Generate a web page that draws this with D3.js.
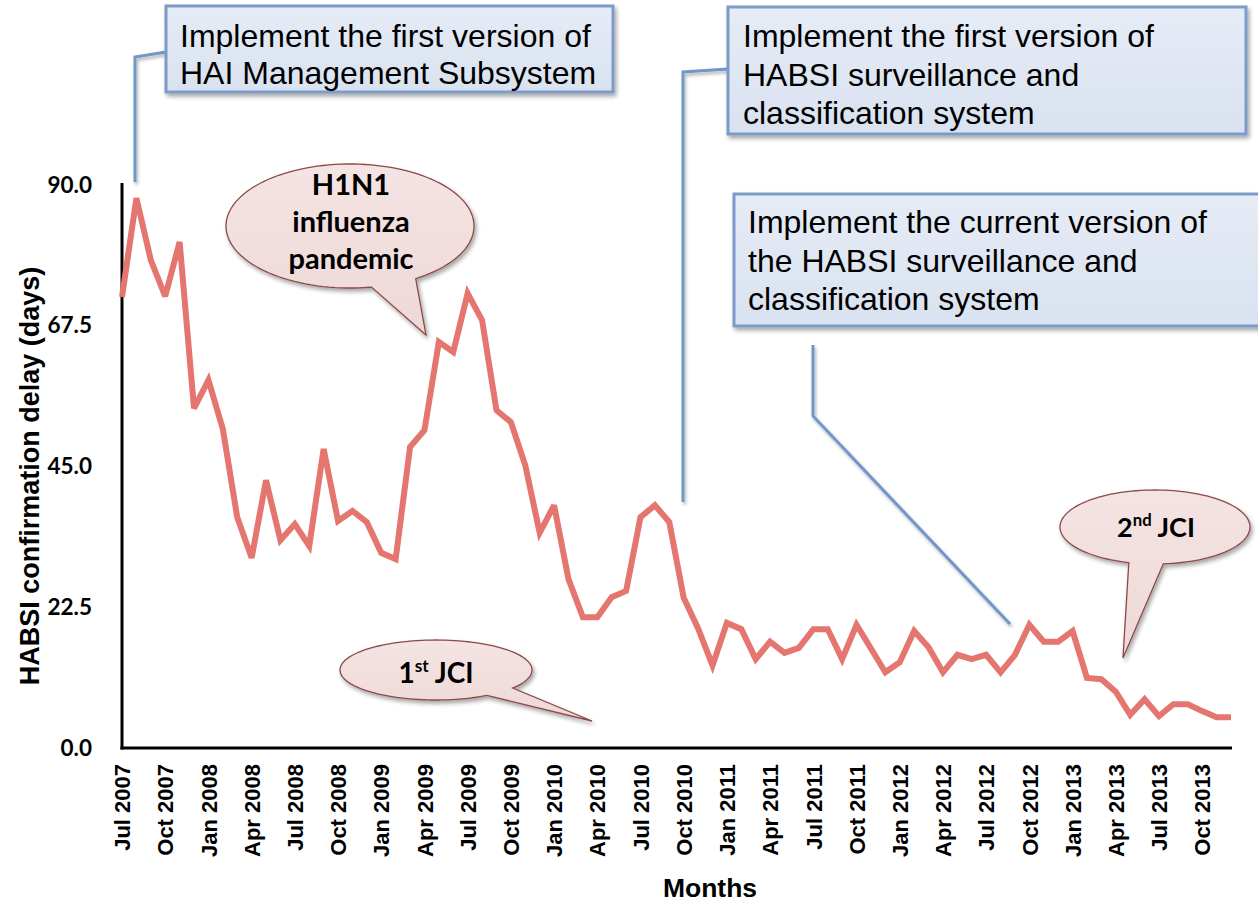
<!DOCTYPE html>
<html>
<head>
<meta charset="utf-8">
<script src="https://cdn.jsdelivr.net/npm/d3@7"></script>
<style>
  html, body { margin: 0; padding: 0; background: #fff; }
  svg { display: block; }
</style>
</head>
<body>
<svg id="chart" width="1258" height="906"></svg>
<script>
// ---------------- DATA ----------------
const months = [
  "Jul 2007","Aug 2007","Sep 2007","Oct 2007","Nov 2007","Dec 2007",
  "Jan 2008","Feb 2008","Mar 2008","Apr 2008","May 2008","Jun 2008",
  "Jul 2008","Aug 2008","Sep 2008","Oct 2008","Nov 2008","Dec 2008",
  "Jan 2009","Feb 2009","Mar 2009","Apr 2009","May 2009","Jun 2009",
  "Jul 2009","Aug 2009","Sep 2009","Oct 2009","Nov 2009","Dec 2009",
  "Jan 2010","Feb 2010","Mar 2010","Apr 2010","May 2010","Jun 2010",
  "Jul 2010","Aug 2010","Sep 2010","Oct 2010","Nov 2010","Dec 2010",
  "Jan 2011","Feb 2011","Mar 2011","Apr 2011","May 2011","Jun 2011",
  "Jul 2011","Aug 2011","Sep 2011","Oct 2011","Nov 2011","Dec 2011",
  "Jan 2012","Feb 2012","Mar 2012","Apr 2012","May 2012","Jun 2012",
  "Jul 2012","Aug 2012","Sep 2012","Oct 2012","Nov 2012","Dec 2012",
  "Jan 2013","Feb 2013","Mar 2013","Apr 2013","May 2013","Jun 2013",
  "Jul 2013","Aug 2013","Sep 2013","Oct 2013","Nov 2013","Dec 2013"
];
const delayDays = [
  72.1, 87.9, 78.0, 72.2, 80.9, 54.3,
  58.8, 51.0, 36.9, 30.4, 42.8, 33.2,
  35.8, 32.3, 47.8, 36.3, 37.9, 36.1,
  31.2, 30.2, 48.1, 50.8, 64.9, 63.3,
  72.7, 68.4, 54.0, 52.1, 45.2, 34.4,
  38.8, 27.0, 20.9, 20.9, 24.1, 25.1,
  36.9, 38.8, 36.1, 24.0, 19.1, 13.2,
  20.0, 19.0, 14.2, 17.0, 15.2, 16.0,
  19.0, 19.0, 14.2, 19.7, 15.9, 12.1,
  13.7, 18.7, 16.1, 12.1, 14.9, 14.2,
  14.9, 12.1, 14.9, 19.7, 17.0, 17.0,
  18.7, 11.2, 11.0, 9.0, 5.3, 7.8,
  5.1, 7.0, 7.0, 5.9, 4.9, 4.9
];
const xTickLabels = [
  "Jul 2007","Oct 2007","Jan 2008","Apr 2008","Jul 2008","Oct 2008",
  "Jan 2009","Apr 2009","Jul 2009","Oct 2009","Jan 2010","Apr 2010",
  "Jul 2010","Oct 2010","Jan 2011","Apr 2011","Jul 2011","Oct 2011",
  "Jan 2012","Apr 2012","Jul 2012","Oct 2012","Jan 2013","Apr 2013",
  "Jul 2013","Oct 2013"
];
const yTickValues = [0, 22.5, 45, 67.5, 90];
const yTitle = "HABSI confirmation delay (days)";
const xTitle = "Months";

const boxTexts = [
  ["Implement the first version of", "HAI Management Subsystem"],
  ["Implement the first version of", "HABSI surveillance and", "classification system"],
  ["Implement the current version of", "the HABSI surveillance and", "classification system"]
];
const bubbleTexts = ["H1N1|influenza|pandemic", "1st JCI", "2nd JCI"];

// ---------------- CHART ----------------
const svg = d3.select("#chart");
const W = 1258, H = 906;
svg.append("rect").attr("width", W).attr("height", H).attr("fill", "#fff");

const defs = svg.append("defs");
const shadow = defs.append("filter").attr("id", "shadow")
  .attr("x", "-10%").attr("y", "-10%").attr("width", "130%").attr("height", "140%");
shadow.append("feDropShadow").attr("dx", 2).attr("dy", 3).attr("stdDeviation", 2.2)
  .attr("flood-color", "#000").attr("flood-opacity", 0.35);
const lshadow = defs.append("filter").attr("id", "lshadow")
  .attr("x", "-20%").attr("y", "-20%").attr("width", "140%").attr("height", "140%");
lshadow.append("feDropShadow").attr("dx", 1.5).attr("dy", 2.5).attr("stdDeviation", 1.5)
  .attr("flood-color", "#000").attr("flood-opacity", 0.3);

const boxGrad = defs.append("linearGradient").attr("id", "boxGrad")
  .attr("x1", 0).attr("y1", 0).attr("x2", 0).attr("y2", 1);
boxGrad.append("stop").attr("offset", "0%").attr("stop-color", "#e6ecf6");
boxGrad.append("stop").attr("offset", "100%").attr("stop-color", "#d9e2f0");

const bubGrad = defs.append("linearGradient").attr("id", "bubGrad")
  .attr("x1", 0).attr("y1", 0).attr("x2", 0).attr("y2", 1);
bubGrad.append("stop").attr("offset", "0%").attr("stop-color", "#f4e4e3");
bubGrad.append("stop").attr("offset", "100%").attr("stop-color", "#eed8d7");

const plot = { left: 122, right: 1231, top: 185, bottom: 748 };

const x = d3.scalePoint().domain(months).range([plot.left, plot.right]);
const y = d3.scaleLinear().domain([0, 90]).range([plot.bottom, plot.top]);

// Y axis
const yAxis = svg.append("g").attr("transform", `translate(${plot.left},0)`)
  .call(d3.axisLeft(y).tickValues(yTickValues).tickFormat(d3.format(".1f")).tickSize(0).tickPadding(30));
yAxis.select(".domain").remove();
yAxis.selectAll("text")
  .attr("font-family", "Lato, 'Open Sans', sans-serif")
  .attr("font-weight", 700).attr("font-size", 22.5).attr("fill", "#000");

// X axis
const xAxis = svg.append("g").attr("transform", `translate(0,${plot.bottom})`)
  .call(d3.axisBottom(x).tickValues(xTickLabels).tickSize(0).tickPadding(0));
xAxis.select(".domain").remove();
xAxis.selectAll("text")
  .attr("font-family", "'Liberation Sans', Arial, sans-serif")
  .attr("font-weight", 700).attr("font-size", 22).attr("fill", "#000")
  .attr("transform", "rotate(-90)")
  .attr("text-anchor", "end")
  .attr("dy", "0.35em")
  .attr("x", -16).attr("y", 0);

// axis lines
svg.append("line").attr("x1", plot.left).attr("x2", plot.left)
  .attr("y1", plot.top - 2).attr("y2", plot.bottom + 1.5)
  .attr("stroke", "#000").attr("stroke-width", 3);
svg.append("line").attr("x1", plot.left - 1.5).attr("x2", plot.right + 1)
  .attr("y1", plot.bottom).attr("y2", plot.bottom)
  .attr("stroke", "#000").attr("stroke-width", 3);

// axis titles
svg.append("text").attr("transform", `translate(30,476) rotate(-90)`)
  .attr("text-anchor", "middle").attr("dy", "0.35em")
  .attr("font-family", "'Liberation Sans', Arial, sans-serif")
  .attr("font-weight", 700).attr("font-size", 27).text(yTitle);
svg.append("text").attr("x", 710).attr("y", 897)
  .attr("text-anchor", "middle")
  .attr("font-family", "'Liberation Sans', Arial, sans-serif")
  .attr("font-weight", 700).attr("font-size", 26.5).text(xTitle);

// Data line
const line = d3.line().x((d, i) => x(months[i])).y(d => y(d));
svg.append("path").datum(delayDays)
  .attr("d", line)
  .attr("fill", "none")
  .attr("stroke", "#e5756f")
  .attr("stroke-width", 6)
  .attr("stroke-linejoin", "miter")
  .attr("stroke-miterlimit", 3);

// ---------------- ANNOTATIONS ----------------
const blue = "#6f97c9";
const connectors = [
  [[166, 52], [135, 57], [135, 182]],
  [[728, 69], [683, 72], [683, 502]],
  [[813, 345], [813, 416], [1010, 624]]
];
connectors.forEach(pts => {
  svg.append("path").attr("d", d3.line()(pts))
    .attr("fill", "none").attr("stroke", blue).attr("stroke-width", 3)
    .attr("filter", "url(#lshadow)");
});

const boxes = [
  { x: 166, y: 6, w: 447, h: 86, tx: 180, ty0: 47, dy: 37 },
  { x: 728, y: 7, w: 518, h: 127, tx: 743, ty0: 47, dy: 38.5 },
  { x: 734, y: 194, w: 530, h: 132, tx: 748, ty0: 233, dy: 38.5 }
];
boxes.forEach((b, k) => {
  svg.append("rect").attr("x", b.x).attr("y", b.y).attr("width", b.w).attr("height", b.h)
    .attr("fill", "url(#boxGrad)").attr("stroke", "#7b9bc8").attr("stroke-width", 3)
    .attr("filter", "url(#shadow)");
  const t = svg.append("text")
    .attr("font-family", "'Liberation Sans', Arial, sans-serif")
    .attr("font-size", 32).attr("fill", "#000");
  boxTexts[k].forEach((s, j) => {
    t.append("tspan").attr("x", b.tx).attr("y", b.ty0 + j * b.dy).text(s);
  });
});

// speech bubbles
function bubblePath(cx, cy, rx, ry, a1, a2, tip) {
  const pts = [];
  let start = a1, end = a2;
  if (end <= start) end += 360;
  const steps = 120;
  for (let i = 0; i <= steps; i++) {
    const t = (start + (end - start) * i / steps) * Math.PI / 180;
    pts.push([cx + rx * Math.cos(t), cy + ry * Math.sin(t)]);
  }
  pts.push(tip);
  return d3.line()(pts) + "Z";
}
const bubbles = [
  { cx: 350, cy: 226, rx: 124, ry: 62, a1: 80, a2: 58, tip: [426, 335] },
  { cx: 436, cy: 670, rx: 96, ry: 30, a1: 58, a2: 37, tip: [592, 721] },
  { cx: 1155, cy: 527, rx: 95, ry: 37, a1: 106, a2: 85, tip: [1123, 658] }
];
bubbles.forEach(b => {
  svg.append("path").attr("d", bubblePath(b.cx, b.cy, b.rx, b.ry, b.a1, b.a2, b.tip))
    .attr("fill", "url(#bubGrad)").attr("stroke", "#8c4a48").attr("stroke-width", 1.3)
    .attr("filter", "url(#shadow)");
});

const bubbleFont = "Lato, 'Open Sans', sans-serif";
const h1 = svg.append("text").attr("text-anchor", "middle")
  .attr("font-family", bubbleFont).attr("font-weight", 700).attr("font-size", 29).attr("fill", "#000");
bubbleTexts[0].split("|").forEach((s, j) => {
  h1.append("tspan").attr("x", 351).attr("y", 195 + j * 37).text(s);
});
function jciText(str, cx, cy, fs) {
  const m = str.match(/^(\d)(st|nd|rd|th) (.*)$/);
  const t = svg.append("text").attr("x", cx).attr("y", cy).attr("text-anchor", "middle")
    .attr("font-family", bubbleFont).attr("font-weight", 700).attr("font-size", fs).attr("fill", "#000");
  t.append("tspan").text(m[1]);
  t.append("tspan").attr("font-size", fs * 0.62).attr("dy", -fs * 0.4).text(m[2]);
  t.append("tspan").attr("dy", fs * 0.4).text(" " + m[3]);
}
jciText(bubbleTexts[1], 436, 683, 28);
jciText(bubbleTexts[2], 1156, 537, 27);
</script>
</body>
</html>
